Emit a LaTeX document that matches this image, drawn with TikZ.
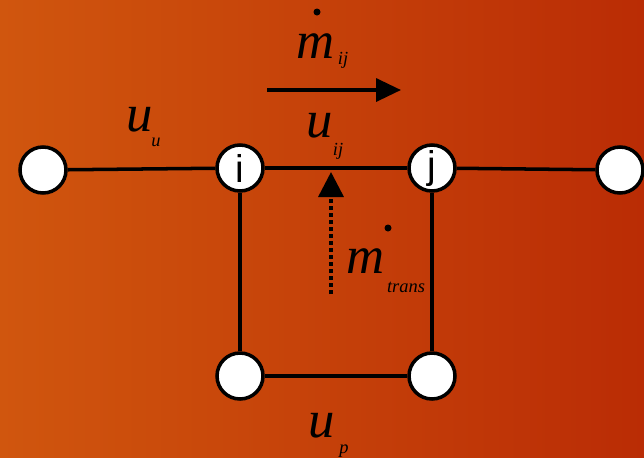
\documentclass[tikz,border=0pt]{standalone}
\usepackage{fontspec}
\setmainfont{Liberation Serif}
\newfontfamily\nodefont{Liberation Sans}
\usetikzlibrary{positioning,arrows.meta}
\definecolor{bgleft}{HTML}{D0560E}
\definecolor{bgmid}{HTML}{BE3A09}
\definecolor{bgright}{HTML}{BA2C05}
\newcommand{\bigsym}{\fontsize{30}{30}\selectfont\itshape}
\newcommand{\subsym}{\fontsize{10.5}{10.5}\selectfont\itshape}

\begin{document}
\begin{tikzpicture}[
  x=0.02cm, y=-0.02cm,
  junc/.style={circle, draw=black, fill=white, line width=2pt, minimum size=9.2mm,
               inner sep=0pt, font=\nodefont\fontsize{22}{22}\selectfont},
  pipe/.style={draw=black, line width=2pt},
  flow/.style={-{Triangle[length=5mm,width=4.6mm]}, line width=2pt},
  trans/.style={-{Triangle[length=5mm,width=5mm]}, line width=2pt, dash pattern=on 2pt off 2pt},
  sym/.style={font=\bigsym, inner sep=0pt},
  sub/.style={font=\subsym, inner sep=0pt},
  rate/.style={fill=black}
]
% background
\shade[left color=bgleft, middle color=bgmid, right color=bgright] (0,0) rectangle (644,457);
\useasboundingbox (0,0) rectangle (644,457);

% junctions
\node[junc] (a) at (43,170) {};
\node[junc] (i) at (240,168) {i};
\node[junc] (j) at (432,168) {j};
\node[junc] (b) at (620,170) {};
\node[junc] (c) at (240,376) {};
\node[junc] (d) at (432,376) {};

% pipes
\draw[pipe] (a) -- (i);
\draw[pipe] (i) -- (j);
\draw[pipe] (j) -- (b);
\draw[pipe] (i) -- (c);
\draw[pipe] (j) -- (d);
\draw[pipe] (c) -- (d);

% flows
\coordinate (fs) at (267,90);
\coordinate (fe) at (401,90);
\draw[flow] (fs) -- (fe);
\coordinate (ts) at (331,294);
\coordinate (te) at (331,172);
\draw[trans] (ts) -- (te);

% labels
\node[sym] (uu) at (140,120) {u};
\node[sub] at (156,142) {u};
\node[sym] (uij) at (320,126) {u};
\node[sub] at (338,151) {ij};
\node[sym] (mij) at (316,46) {m};
\node[sub] at (343,60) {ij};
\fill[rate] (317,12) circle (3.5);
\node[sym] (mtr) at (366,261) {m};
\node[sub] at (406,287) {trans};
\fill[rate] (388,228) circle (3.5);
\node[sym] (up) at (322,426) {u};
\node[sub] at (344,451) {p};
\end{tikzpicture}
\end{document}
